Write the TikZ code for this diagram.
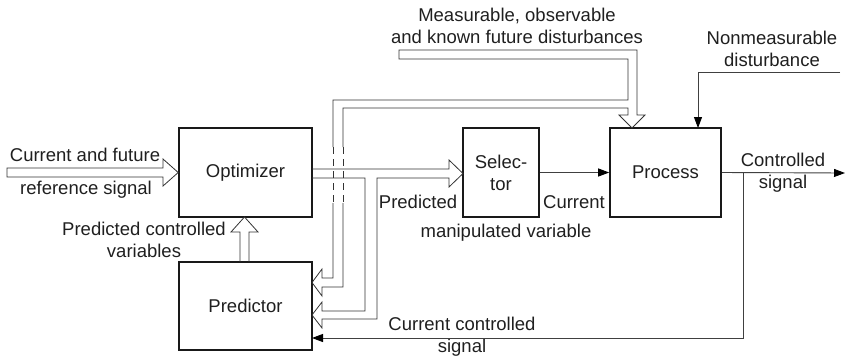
\documentclass[tikz,border=0pt]{standalone}
\usepackage{fontspec}
\setmainfont{Liberation Sans}
\usetikzlibrary{arrows.meta}
\begin{document}
\begin{tikzpicture}[x=1pt,y=-1pt,
  every node/.style={font=\fontsize{18.5}{22}\selectfont, text=black!88, align=center, inner sep=0pt},
  blk/.style={draw=black!90, line width=1.6pt, minimum height=89pt},
  pipe/.style={draw=black!80, line width=0.8pt, line join=miter},
  arr/.style={draw=black!75, line width=0.9pt, -{Triangle[length=11pt,width=8pt,color=black]}},
  brk/.style={draw=black!80, line width=0.8pt, dash pattern=on 7pt off 5pt}]
\useasboundingbox (0,0) rectangle (845,360);

% blocks
\node[blk, minimum width=133pt] (opt) at (245.5,172.5) {Optimizer};
\node[blk, minimum width=133pt, minimum height=88pt] (pred) at (245.5,306) {Predictor};
\node[blk, minimum width=76pt] (sel) at (501,172.5) {Selec-\\tor};
\node[blk, minimum width=111pt] (proc) at (665.5,172.5) {Process};

% labels
\node (l1) at (85,155) {Current and future};
\node (l2) at (86,190) {reference signal};
\node (l3) at (144,239.5) {Predicted controlled\\variables};
\node (l4) at (418,202) {Predicted};
\node (l5) at (574,202) {Current};
\node (l6) at (506,233) {manipulated variable};
\node (l7) at (783,172.5) {Controlled\\signal};
\node (l8) at (462,337) {Current controlled\\signal};
\node (l9) at (517,26) {Measurable, observable\\and known future disturbances};
\node (l10) at (772,49) {Nonmeasurable\\disturbance};

% reference input (hollow arrow)
\draw[pipe] (7,168) -- (163,168) -- (163,159) -- (opt.west |- 0,172.5) -- (163,186) -- (163,177) -- (7,177) -- cycle;

% predictor -> optimizer (hollow arrow)
\draw[pipe] (240,262) -- (240,232) -- (231,232) -- (244.5,217) -- (258,232) -- (249,232) -- (249,262);

% optimizer -> selector, with branch down to predictor
\draw[pipe] (312,169) -- (449,169) -- (449,160) -- (463,173.5) -- (449,187) -- (449,178)
  -- (377,178) -- (377,319) -- (322,319) -- (322,328) -- (312,315) -- (322,302)
  -- (322,311) -- (365,311) -- (365,178) -- (312,178);

% measurable disturbances pipe, with branch to predictor
\draw[pipe] (333,147) -- (333,100) -- (628,100) -- (628,59) -- (399,59) -- (399,50) -- (637,50)
  -- (637,115) -- (645,115) -- (632,128) -- (619,115) -- (628,115) -- (628,108) -- (343,108) -- (343,147);
\draw[brk] (333,147) -- (333,203);
\draw[brk] (343,147) -- (343,203);
\draw[pipe] (333,203) -- (333,278) -- (322,278) -- (322,269) -- (312,282.5) -- (322,296)
  -- (322,287) -- (343,287) -- (343,203);

% selector -> process
\draw[arr] (sel.east) -- (proc.west);

% process output
\coordinate (out) at (845,173);
\coordinate (tap) at (743,173);
\coordinate (fbin) at (312,338);
\draw[arr] (proc.east) -- (out);
\draw[arr] (tap) -- (743,338) -- (fbin);

% nonmeasurable disturbance
\coordinate (nm) at (840,72);
\coordinate (nmin) at (698,128);
\draw[arr] (nm) -| (nmin);
\end{tikzpicture}
\end{document}
